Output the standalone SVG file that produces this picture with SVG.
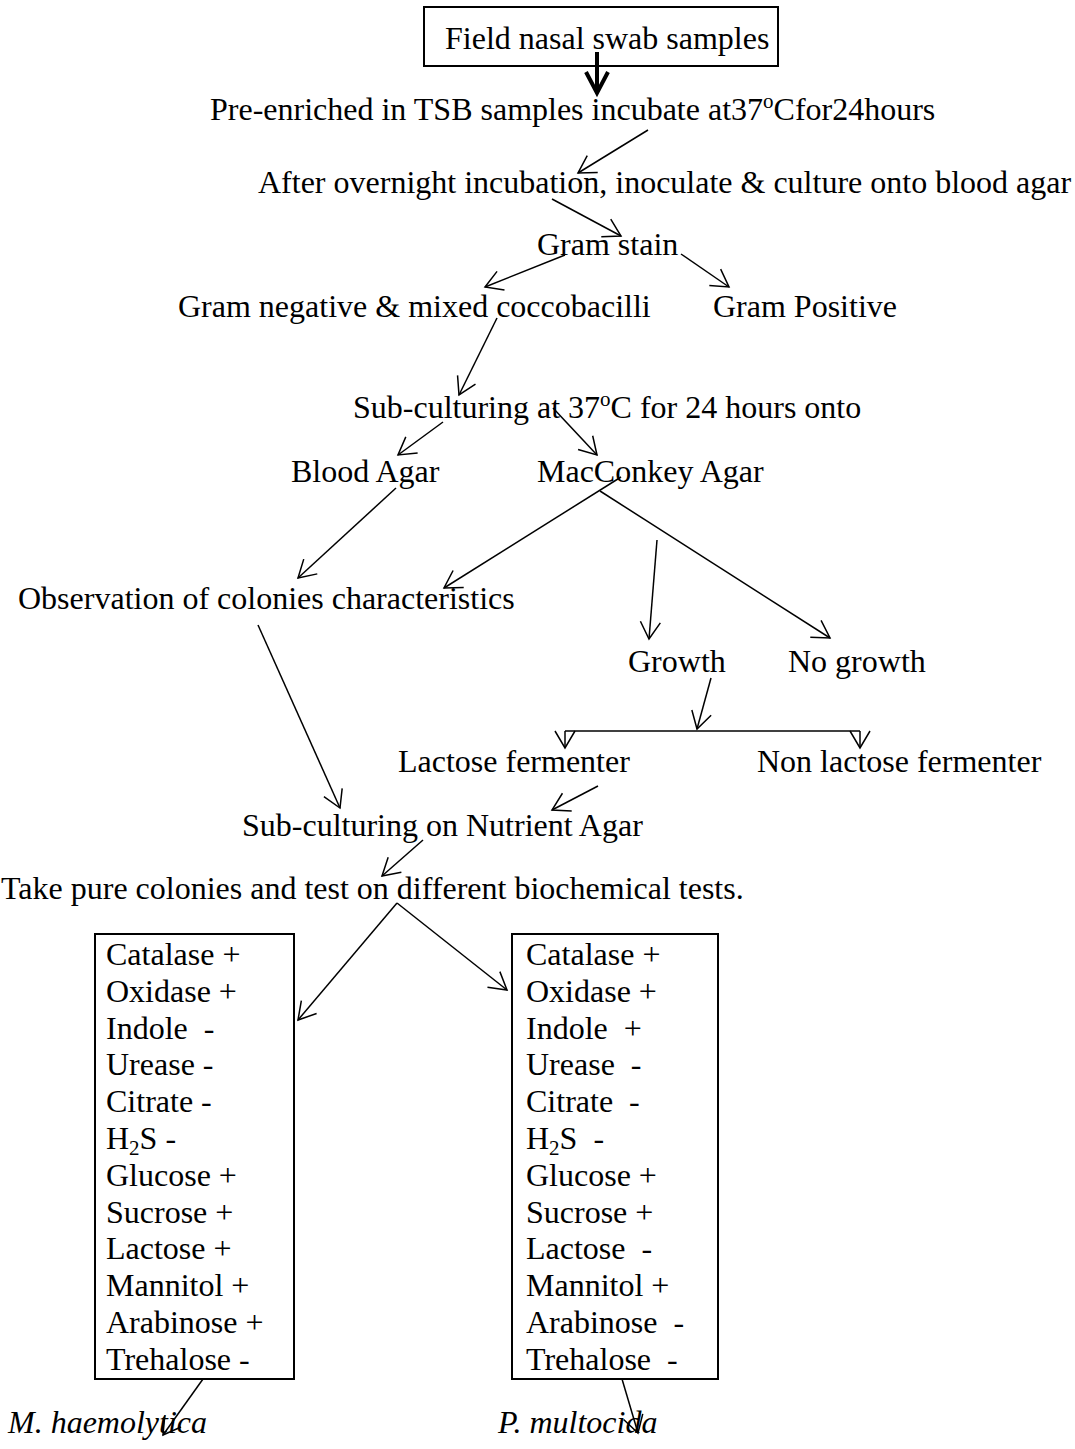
<svg xmlns="http://www.w3.org/2000/svg" width="1075" height="1449" viewBox="0 0 1075 1449">
<defs>
<style>
.t{font-family:"Liberation Serif","Times New Roman",serif;font-size:32px;fill:#000;white-space:pre}
.i{font-style:italic}
.box{fill:none;stroke:#000;stroke-width:2}
.c line,.c path{stroke:#000;stroke-width:1.5;fill:none}
.c .thick{stroke-width:4}
</style>
<marker id="ah" markerUnits="userSpaceOnUse" markerWidth="40" markerHeight="40" refX="0" refY="0" viewBox="-20 -20 40 40" orient="auto" overflow="visible">
<path d="M-17,-10 L0,0 L-17,10" fill="none" stroke="#000" stroke-width="1.5"/>
</marker>
</defs>
<rect width="1075" height="1449" fill="#fff"/>

<g id="n-field"><rect class="box" x="424" y="7" width="354" height="59"/><text class="t" x="445" y="49">Field nasal swab samples</text></g>
<g id="n-preenriched"><text class="t" x="210" y="120">Pre-enriched in TSB samples incubate at37<tspan font-size="21" dy="-12">o</tspan><tspan dy="12">Cfor24hours</tspan></text></g>
<g id="n-after"><text class="t" x="258" y="193">After overnight incubation, inoculate &amp; culture onto blood agar</text></g>
<g id="n-gram"><text class="t" x="537" y="255">Gram stain</text></g>
<g id="n-gramneg"><text class="t" x="178" y="317">Gram negative &amp; mixed coccobacilli</text></g>
<g id="n-grampos"><text class="t" x="713" y="317">Gram Positive</text></g>
<g id="n-sub37"><text class="t" x="353" y="418">Sub-culturing at 37<tspan font-size="21" dy="-12">o</tspan><tspan dy="12">C for 24 hours onto</tspan></text></g>
<g id="n-blood"><text class="t" x="291" y="482">Blood Agar</text></g>
<g id="n-mac"><text class="t" x="537" y="482">MacConkey Agar</text></g>
<g id="n-obs"><text class="t" x="18" y="609">Observation of colonies characteristics</text></g>
<g id="n-growth"><text class="t" x="628" y="672">Growth</text></g>
<g id="n-nogrowth"><text class="t" x="788" y="672">No growth</text></g>
<g id="n-lact"><text class="t" x="398" y="772">Lactose fermenter</text></g>
<g id="n-nonlact"><text class="t" x="757" y="772">Non lactose fermenter</text></g>
<g id="n-nutrient"><text class="t" x="242" y="836">Sub-culturing on Nutrient Agar</text></g>
<g id="n-take"><text class="t" x="1" y="899">Take pure colonies and test on different biochemical tests.</text></g>

<g id="n-box-left">
<rect class="box" x="95" y="934" width="199" height="445"/>
<text class="t" x="106" y="965">Catalase +</text>
<text class="t" x="106" y="1001.8">Oxidase +</text>
<text class="t" x="106" y="1038.6">Indole  -</text>
<text class="t" x="106" y="1075.4">Urease -</text>
<text class="t" x="106" y="1112.2">Citrate -</text>
<text class="t" x="106" y="1149">H<tspan font-size="21" dy="6">2</tspan><tspan dy="-6">S -</tspan></text>
<text class="t" x="106" y="1185.8">Glucose +</text>
<text class="t" x="106" y="1222.6">Sucrose +</text>
<text class="t" x="106" y="1259.4">Lactose +</text>
<text class="t" x="106" y="1296.2">Mannitol +</text>
<text class="t" x="106" y="1333">Arabinose +</text>
<text class="t" x="106" y="1369.8">Trehalose -</text>
</g>
<g id="n-box-right">
<rect class="box" x="512" y="934" width="206" height="445"/>
<text class="t" x="526" y="965">Catalase +</text>
<text class="t" x="526" y="1001.8">Oxidase +</text>
<text class="t" x="526" y="1038.6">Indole  +</text>
<text class="t" x="526" y="1075.4">Urease  -</text>
<text class="t" x="526" y="1112.2">Citrate  -</text>
<text class="t" x="526" y="1149">H<tspan font-size="21" dy="6">2</tspan><tspan dy="-6">S  -</tspan></text>
<text class="t" x="526" y="1185.8">Glucose +</text>
<text class="t" x="526" y="1222.6">Sucrose +</text>
<text class="t" x="526" y="1259.4">Lactose  -</text>
<text class="t" x="526" y="1296.2">Mannitol +</text>
<text class="t" x="526" y="1333">Arabinose  -</text>
<text class="t" x="526" y="1369.8">Trehalose  -</text>
</g>
<g id="n-mh"><text class="t i" x="8" y="1433">M. haemolytica</text></g>
<g id="n-pm"><text class="t i" x="498" y="1433">P. multocida</text></g>

<g id="connectors" class="c">
<line class="thick" x1="597" y1="52" x2="597" y2="92"/>
<path class="thick" d="M586,72 L597,93 L608,72"/>
<line x1="648" y1="130" x2="578" y2="173" marker-end="url(#ah)"/>
<line x1="552" y1="199" x2="621" y2="236" marker-end="url(#ah)"/>
<line x1="565" y1="255" x2="485" y2="287" marker-end="url(#ah)"/>
<line x1="681" y1="254" x2="729" y2="287" marker-end="url(#ah)"/>
<line x1="497" y1="318" x2="459" y2="395" marker-end="url(#ah)"/>
<line x1="443" y1="422" x2="398" y2="455" marker-end="url(#ah)"/>
<line x1="553" y1="408" x2="597" y2="455" marker-end="url(#ah)"/>
<line x1="396" y1="488" x2="298" y2="578" marker-end="url(#ah)"/>
<line x1="621" y1="477" x2="444" y2="588" marker-end="url(#ah)"/>
<line x1="600" y1="491" x2="830" y2="638" marker-end="url(#ah)"/>
<line x1="657" y1="540" x2="649" y2="639" marker-end="url(#ah)"/>
<line x1="711" y1="678" x2="697" y2="729" marker-end="url(#ah)"/>
<line x1="565" y1="731" x2="860" y2="731"/>
<line x1="565" y1="731" x2="565" y2="748" marker-end="url(#ah)"/>
<line x1="860" y1="731" x2="860" y2="748" marker-end="url(#ah)"/>
<line x1="598" y1="786" x2="552" y2="810" marker-end="url(#ah)"/>
<line x1="258" y1="625" x2="340" y2="808" marker-end="url(#ah)"/>
<line x1="423" y1="840" x2="382" y2="876" marker-end="url(#ah)"/>
<line x1="397" y1="903" x2="298" y2="1020" marker-end="url(#ah)"/>
<line x1="397" y1="903" x2="507" y2="990" marker-end="url(#ah)"/>
<line x1="203" y1="1379" x2="163" y2="1435" marker-end="url(#ah)"/>
<line x1="622" y1="1379" x2="638" y2="1433" marker-end="url(#ah)"/>
</g>
</svg>
